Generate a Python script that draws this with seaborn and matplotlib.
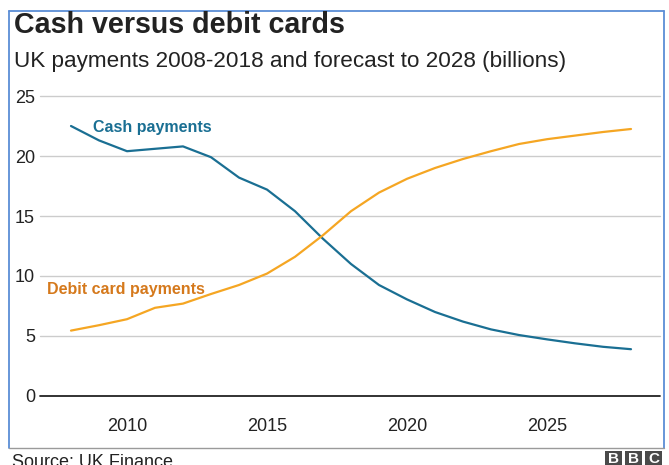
import numpy as np
import pandas as pd
import matplotlib
matplotlib.use("Agg")
import matplotlib.pyplot as plt
import seaborn as sns
from matplotlib.patches import Rectangle
from matplotlib.lines import Line2D

years = list(range(2008, 2029))
cash = [22.5, 21.3, 20.4, 20.6, 20.8, 19.9, 18.2, 17.2, 15.4, 13.1, 11.0,
        9.25, 8.05, 7.0, 6.2, 5.55, 5.08, 4.72, 4.39, 4.1, 3.9]
debit = [5.45, 5.9, 6.4, 7.35, 7.7, 8.5, 9.25, 10.2, 11.6, 13.4, 15.4,
         16.95, 18.1, 19.0, 19.75, 20.4, 21.0, 21.4, 21.7, 22.0, 22.25]
series_names = ["Cash payments", "Debit card payments"]
y_ticks = [0, 5, 10, 15, 20, 25]
x_ticks = [2010, 2015, 2020, 2025]

title = "Cash versus debit cards"
subtitle = "UK payments 2008-2018 and forecast to 2028 (billions)"
source = "Source: UK Finance"

df = pd.DataFrame({
    "year": years * 2,
    "value": cash + debit,
    "series": [series_names[0]] * len(years) + [series_names[1]] * len(years),
})

sns.set_theme(style="white")
plt.rcParams["font.family"] = ["Liberation Sans", "DejaVu Sans"]

W, H = 669, 465
fig = plt.figure(figsize=(W / 100, H / 100), dpi=100)
fig.patch.set_facecolor("white")

def fx(px):
    return px / W

def fy(py):
    return 1 - py / H

ax_left, ax_right = 40, 660
ax_top, ax_bottom = 96, 396
ax = fig.add_axes([fx(ax_left), fy(ax_bottom), fx(ax_right - ax_left), (ax_bottom - ax_top) / H])

cash_color = "#1a6f93"
debit_color = "#f5a623"
palette = {series_names[0]: cash_color, series_names[1]: debit_color}

sns.lineplot(data=df, x="year", y="value", hue="series", palette=palette,
             linewidth=1.6, ax=ax, legend=False)
for ln in ax.lines:
    ln.set_clip_on(False)
    ln.set_zorder(3)

x0 = 2008 - 31 / 28
x1 = 2028 + 29 / 28
ax.set_xlim(x0, x1)
ax.set_ylim(0, 25)
ax.set_yticks(y_ticks)
ax.set_xticks(x_ticks)
ax.set_xlabel("")
ax.set_ylabel("")
for s in ax.spines.values():
    s.set_visible(False)
ax.grid(False)
for t in y_ticks:
    if t == 0:
        ax.axhline(t, color="#222222", linewidth=1.3, zorder=2, clip_on=False)
    else:
        ax.axhline(t, color="#cccccc", linewidth=1.0, zorder=1, clip_on=False)

ax.tick_params(axis="both", length=0, labelsize=13, colors="#222222")
ax.tick_params(axis="y", pad=3.6)
ax.tick_params(axis="x", pad=16)

ax.text(2008.8, 22.4, series_names[0], color="#1a6f93", fontsize=11.5,
        fontweight="bold", va="center", ha="left")
ax.text(2007.13, 8.9, series_names[1], color="#d5791c", fontsize=11.5,
        fontweight="bold", va="center", ha="left")

# Titles
fig.text(fx(14), fy(25), title, fontsize=20.6, fontweight="bold",
         color="#222222", va="center", ha="left")
fig.text(fx(14), fy(62), subtitle, fontsize=16.2, color="#222222",
         va="center", ha="left")

# Frame
frame_color = "#5b8dd6"
fig.add_artist(Line2D([fx(8.5), fx(8.5)], [fy(11), fy(448)], color=frame_color, linewidth=1.3))
fig.add_artist(Line2D([fx(664), fx(664)], [fy(11), fy(448)], color=frame_color, linewidth=1.3))
fig.add_artist(Line2D([fx(8.5), fx(664)], [fy(11), fy(11)], color=frame_color, linewidth=1.3))
fig.add_artist(Line2D([fx(8.5), fx(664)], [fy(448), fy(448)], color="#9a9a9a", linewidth=1.0))

fig.text(fx(12), fy(462), source, fontsize=13, color="#222222", va="center", ha="left")

# BBC blocks
bw, bh, gap = 17, 16, 3
bx = 605
for letter in "BBC":
    fig.add_artist(Rectangle((fx(bx), fy(467)), bw / W, bh / H,
                             facecolor="#4a4a4a", edgecolor="none"))
    fig.text(fx(bx + bw / 2), fy(459), letter, fontsize=11, fontweight="bold",
             color="white", ha="center", va="center")
    bx += bw + gap

fig.savefig("out.png", dpi=100, facecolor="white")
